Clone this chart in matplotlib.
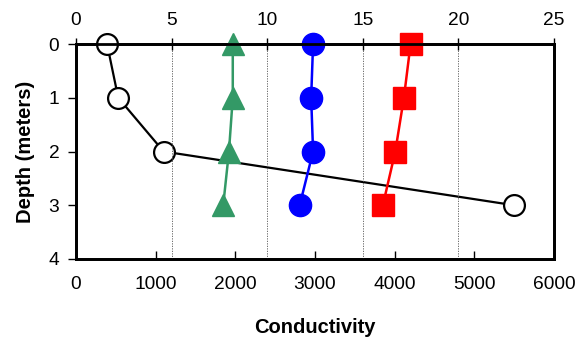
import matplotlib.pyplot as plt

plt.rcParams['font.family'] = ['Liberation Sans', 'DejaVu Sans']

depth = [0, 1, 2, 3]

# bulk conductivity (bottom axis)
conductivity = [390, 530, 1100, 5500]

# profiles read on the top axis
green_vals = [8.2, 8.2, 8.0, 7.7]
blue_vals = [12.4, 12.3, 12.4, 11.7]
red_vals = [17.5, 17.15, 16.7, 16.05]

bottom_ticks = [0, 1000, 2000, 3000, 4000, 5000, 6000]
top_ticks = [0, 5, 10, 15, 20, 25]
depth_ticks = [0, 1, 2, 3, 4]

fig = plt.figure(figsize = (5.81, 3.43), dpi = 100)
ax = fig.add_axes([0.1308, 0.2449, 0.8227, 0.6268])

ax.plot(conductivity, depth, color = 'black', lw = 1.6, marker = 'o', ms = 15,
        mfc = 'white', mec = 'black', mew = 1.6, clip_on = False, zorder = 3)

ax.set_xlim(0, 6000)
ax.set_ylim(4, 0)
ax.set_xticks(bottom_ticks)
ax.set_yticks(depth_ticks)
ax.tick_params(axis = 'x', direction = 'in', length = 6, width = 1, pad = 12, labelsize = 13.8)
ax.tick_params(axis = 'y', direction = 'out', length = 6, width = 1, pad = 6, labelsize = 13.8)
ax.set_xlabel('Conductivity', fontweight = 'bold', fontsize = 14.5, labelpad = 18)
ax.set_ylabel('Depth (meters)', fontweight = 'bold', fontsize = 14.5, labelpad = 10)

ax2 = ax.twiny()
ax2.set_xlim(0, 25)
ax2.set_xticks(top_ticks)
ax2.tick_params(axis = 'x', direction = 'inout', length = 8, width = 1, pad = 7, labelsize = 13.8)
ax2.grid(axis = 'x', linestyle = (0, (1.5, 1.5)), color = '#555555', lw = 0.6)

ax2.plot(green_vals, depth, color = '#339966', lw = 1.8, marker = '^', ms = 16, clip_on = False)
ax2.plot(blue_vals, depth, color = '#0000ff', lw = 1.8, marker = 'o', ms = 16, clip_on = False)
ax2.plot(red_vals, depth, color = '#ff0000', lw = 1.8, marker = 's', ms = 15.5, clip_on = False)

for a in (ax, ax2):
  for s in a.spines.values():
    s.set_linewidth(2)
    s.set_color('black')

fig.savefig('out.png', dpi = 100)
